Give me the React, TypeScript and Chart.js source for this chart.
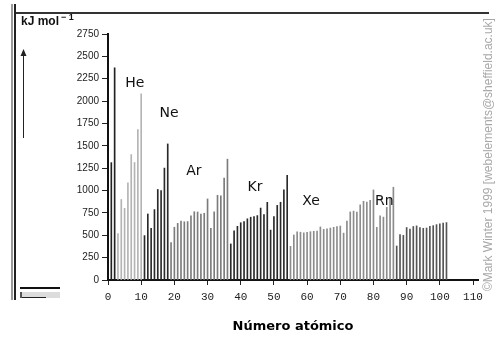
import React, { useEffect, useRef } from 'react';
import { Chart, registerables } from 'chart.js';

Chart.register(...registerables);

const atomicNumbers = [
  1, 2, 3, 4, 5, 6, 7, 8, 9, 10, 11, 12, 13, 14, 15, 16, 17, 18, 19, 20,
  21, 22, 23, 24, 25, 26, 27, 28, 29, 30, 31, 32, 33, 34, 35, 36, 37, 38, 39, 40,
  41, 42, 43, 44, 45, 46, 47, 48, 49, 50, 51, 52, 53, 54, 55, 56, 57, 58, 59, 60,
  61, 62, 63, 64, 65, 66, 67, 68, 69, 70, 71, 72, 73, 74, 75, 76, 77, 78, 79, 80,
  81, 82, 83, 84, 85, 86, 87, 88, 89, 90, 91, 92, 93, 94, 95, 96, 97, 98, 99, 100,
  101, 102,
];

// First ionisation energies, kJ/mol
const ionizationEnergies = [
  1312, 2372, 520, 900, 801, 1086, 1402, 1314, 1681, 2081,
  496, 738, 578, 787, 1012, 1000, 1251, 1521,
  419, 590, 633, 659, 651, 653, 717, 763, 760, 737, 746, 906, 579, 762, 947, 941, 1140, 1351,
  403, 550, 600, 640, 652, 684, 702, 710, 720, 804, 731, 868, 558, 709, 834, 869, 1008, 1170,
  376, 503, 538, 534, 527, 533, 540, 545, 547, 593, 566, 573, 581, 589, 597, 603, 524, 659,
  761, 770, 760, 840, 880, 870, 890, 1007, 589, 716, 703, 812, 920, 1037,
  380, 509, 499, 587, 568, 598, 605, 585, 578, 581, 601, 608, 619, 627, 635, 642,
];

const xTickValues = [0, 10, 20, 30, 40, 50, 60, 70, 80, 90, 100, 110];
const yTickValues = [0, 250, 500, 750, 1000, 1250, 1500, 1750, 2000, 2250, 2500, 2750];

const periodStarts = [1, 3, 11, 19, 37, 55, 87];
const periodColors = ['#222222', '#b4b4b4', '#2a2a2a', '#7c7c7c', '#2a2a2a', '#8c8c8c', '#555555'];

const elementLabels = ['He', 'Ne', 'Ar', 'Kr', 'Xe', 'Rn'];
const labelAtomicX = [8.1, 18.4, 25.9, 44.3, 61.2, 83.3];
const labelEnergyY = [2201, 1866, 1218, 1039, 883, 883];

const yUnit = 'kJ mol';
const xTitle = 'Número atómico';
const watermark = '©Mark Winter 1999 [webelements@sheffield.ac.uk]';

function colorFor(z: number): string {
  let idx = 0;
  for (let i = 0; i < periodStarts.length; i++) {
    if (z >= periodStarts[i]) idx = i;
  }
  return periodColors[idx];
}

const decorPlugin = {
  id: 'decor',
  afterDraw(chart: any) {
    const ctx = chart.ctx as CanvasRenderingContext2D;
    const xs = chart.scales.x;
    const ys = chart.scales.y;
    ctx.save();

    // left frame double line
    ctx.fillStyle = '#9a9a9a';
    ctx.fillRect(11, 4, 2, 296);
    ctx.fillStyle = '#222';
    ctx.fillRect(14, 4, 2, 296);
    // top frame line
    ctx.fillStyle = '#333';
    ctx.fillRect(16, 12, 473, 2);

    // unit label
    ctx.fillStyle = '#111';
    ctx.font = 'bold 12px "Liberation Sans", Arial, sans-serif';
    ctx.textBaseline = 'alphabetic';
    ctx.textAlign = 'left';
    ctx.fillText(yUnit, 21, 25);
    const w = ctx.measureText(yUnit).width;
    ctx.font = 'bold 9px "Liberation Sans", Arial, sans-serif';
    ctx.fillText('\u2212 1', 21 + w + 2, 20);

    // arrow
    ctx.strokeStyle = '#222';
    ctx.lineWidth = 1;
    ctx.beginPath();
    ctx.moveTo(23.5, 54);
    ctx.lineTo(23.5, 138);
    ctx.stroke();
    ctx.fillStyle = '#222';
    ctx.beginPath();
    ctx.moveTo(23.5, 49);
    ctx.lineTo(20.5, 56);
    ctx.lineTo(26.5, 56);
    ctx.closePath();
    ctx.fill();

    // bottom-left scribble
    ctx.fillStyle = '#111';
    ctx.fillRect(20, 287, 40, 2);
    ctx.fillStyle = '#dcdcdc';
    ctx.fillRect(20, 292, 40, 6);
    ctx.fillStyle = '#555';
    ctx.fillRect(20, 292, 2, 6);
    ctx.fillStyle = '#222';
    ctx.fillRect(22, 297, 24, 1);

    // element labels
    ctx.fillStyle = '#111';
    ctx.font = '14px "DejaVu Sans", sans-serif';
    ctx.textAlign = 'center';
    ctx.textBaseline = 'middle';
    for (let i = 0; i < elementLabels.length; i++) {
      ctx.fillText(
        elementLabels[i],
        xs.getPixelForValue(labelAtomicX[i]),
        ys.getPixelForValue(labelEnergyY[i])
      );
    }

    // watermark
    ctx.save();
    ctx.translate(489, 291);
    ctx.rotate(-Math.PI / 2);
    ctx.fillStyle = '#a8a8a8';
    ctx.font = '12px "Liberation Sans", Arial, sans-serif';
    ctx.textAlign = 'left';
    ctx.textBaseline = 'middle';
    ctx.fillText(watermark, 0, 0);
    ctx.restore();

    ctx.restore();
  },
};

export default function App() {
  const ref = useRef<HTMLCanvasElement | null>(null);

  useEffect(() => {
    if (!ref.current) return;
    const data = atomicNumbers.map((z, i) => ({ x: z, y: ionizationEnergies[i] }));
    const chart = new Chart(ref.current, {
      type: 'bar',
      data: {
        datasets: [
          {
            data: data as any,
            backgroundColor: atomicNumbers.map(colorFor),
            borderWidth: 0,
            barThickness: 1,
          },
        ],
      },
      options: {
        animation: false,
        responsive: true,
        maintainAspectRatio: false,
        layout: { padding: { top: 34, right: 20, left: 0, bottom: 0 } },
        plugins: {
          legend: { display: false },
          tooltip: { enabled: false },
        },
        scales: {
          x: {
            type: 'linear',
            min: 0,
            max: 111.5,
            offset: false,
            afterBuildTicks: (scale: any) => {
              scale.ticks = xTickValues.map((v) => ({ value: v }));
            },
            afterFit: (scale: any) => {
              scale.height = 60;
            },
            grid: {
              offset: false,
              drawOnChartArea: false,
              drawTicks: true,
              tickLength: 5,
              color: '#222',
              lineWidth: 1,
            },
            border: { display: true, color: '#111', width: 2 },
            ticks: {
              autoSkip: false,
              maxRotation: 0,
              padding: 5,
              color: '#222',
              font: { family: '"Liberation Mono", monospace', size: 11 },
              callback: (v: any) => String(v),
            },
            title: {
              display: true,
              text: xTitle,
              color: '#000',
              font: { family: '"DejaVu Sans", sans-serif', size: 13, weight: 'bold' },
              padding: { top: 0, bottom: 6 },
            },
          },
          y: {
            type: 'linear',
            min: 0,
            max: 2750,
            afterBuildTicks: (scale: any) => {
              scale.ticks = yTickValues.map((v) => ({ value: v }));
            },
            afterFit: (scale: any) => {
              scale.width = 108;
            },
            grid: {
              drawOnChartArea: false,
              drawTicks: true,
              tickLength: 6,
              color: '#222',
              lineWidth: 1,
            },
            border: { display: true, color: '#111', width: 2 },
            ticks: {
              autoSkip: false,
              padding: 3,
              color: '#222',
              font: { family: '"Liberation Sans", Arial, sans-serif', size: 10 },
              callback: (v: any) => String(v),
            },
          },
        },
      },
      plugins: [decorPlugin],
    });
    return () => chart.destroy();
  }, []);

  return (
    <div style={{ position: 'absolute', left: 0, top: 0, width: 498, height: 340, background: '#fff' }}>
      <canvas ref={ref} />
    </div>
  );
}
